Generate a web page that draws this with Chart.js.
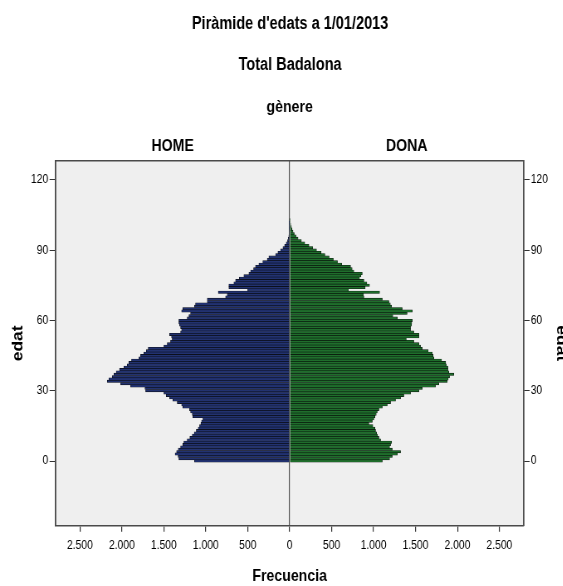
<!DOCTYPE html>
<html>
<head>
<meta charset="utf-8">
<script src="https://cdn.jsdelivr.net/npm/chart.js@4.4.1/dist/chart.umd.min.js"></script>
<style>
  html, body { margin: 0; padding: 0; background: #fff; overflow: hidden; }
  /* the original export is horizontally squeezed (narrow Arial look) */
  #pyramid { transform: scaleX(0.83); transform-origin: 0 0; }
</style>
</head>
<body>
<canvas id="pyramid" width="699" height="586"></canvas>
<script>
// age groups (one bar per year of age)
const ages = [
    0, 1, 2, 3, 4, 5, 6, 7, 8, 9,
    10, 11, 12, 13, 14, 15, 16, 17, 18, 19,
    20, 21, 22, 23, 24, 25, 26, 27, 28, 29,
    30, 31, 32, 33, 34, 35, 36, 37, 38, 39,
    40, 41, 42, 43, 44, 45, 46, 47, 48, 49,
    50, 51, 52, 53, 54, 55, 56, 57, 58, 59,
    60, 61, 62, 63, 64, 65, 66, 67, 68, 69,
    70, 71, 72, 73, 74, 75, 76, 77, 78, 79,
    80, 81, 82, 83, 84, 85, 86, 87, 88, 89,
    90, 91, 92, 93, 94, 95, 96, 97, 98, 99,
    100, 101, 102, 103
];

const genders = ['HOME', 'DONA'];

// men per age
const homeCounts = [
    1134, 1321, 1330, 1365, 1348, 1328, 1300, 1273, 1261, 1221,
    1190, 1161, 1137, 1113, 1090, 1074, 1058, 1050, 1034, 1154,
    1161, 1181, 1193, 1273, 1288, 1340, 1392, 1431, 1471, 1499,
    1717, 1725, 1896, 2015, 2174, 2155, 2115, 2095, 2067, 2028,
    1976, 1936, 1916, 1885, 1797, 1777, 1738, 1709, 1686, 1499,
    1459, 1420, 1400, 1408, 1431, 1300, 1288, 1300, 1312, 1321,
    1321, 1221, 1201, 1181, 1288, 1273, 1135, 1122, 982, 982,
    764, 744, 851, 500, 725, 725, 665, 645, 600, 546,
    486, 466, 430, 407, 367, 320, 267, 248, 168, 140,
    108, 80, 60, 41, 25, 17, 10, 7, 5, 3,
    2, 1, 1, 0
];

// women per age
const donaCounts = [
    1104, 1191, 1223, 1283, 1322, 1223, 1191, 1203, 1215, 1084,
    1064, 1048, 1036, 1024, 1016, 992, 944, 985, 1004, 1016,
    1032, 1044, 1064, 1104, 1163, 1203, 1262, 1322, 1361, 1441,
    1540, 1580, 1739, 1779, 1879, 1890, 1906, 1957, 1898, 1886,
    1886, 1867, 1860, 1811, 1719, 1710, 1700, 1652, 1580, 1560,
    1540, 1480, 1390, 1540, 1540, 1480, 1441, 1441, 1453, 1455,
    1461, 1283, 1230, 1400, 1461, 1342, 1215, 1200, 1183, 1104,
    885, 880, 1072, 700, 900, 952, 920, 885, 833, 850,
    865, 765, 745, 726, 620, 570, 520, 470, 420, 375,
    320, 275, 230, 180, 140, 100, 75, 55, 40, 28,
    20, 12, 8, 4
];

const freqTicks = [-2500, -2000, -1500, -1000, -500, 0, 500, 1000, 1500, 2000, 2500];
const ageTicks = [0, 30, 60, 90, 120];

const FREQ_MAX = 2790;
const AGE_MIN = -27.6;
const AGE_MAX = 128;

// horizontal sizes are given in on-screen pixels and un-squeezed here
const SQUEEZE = 0.83;
const W = 699;
const sx = px => px / SQUEEZE;

const FONT = '"Liberation Sans", Arial, sans-serif';
const FRAME = '#4a4a4a';
const TICK = '#333';

Chart.defaults.font.family = FONT;
Chart.defaults.color = '#000';

// grey plot background like SPSS
const plotBackground = {
    id: 'plotBackground',
    beforeDraw(chart) {
        const { ctx, chartArea: a } = chart;
        ctx.save();
        ctx.fillStyle = '#efefef';
        ctx.fillRect(a.left, a.top, a.right - a.left, a.bottom - a.top);
        ctx.restore();
    }
};

const thousands = v => String(Math.abs(v)).replace(/\B(?=(\d{3})+(?!\d))/g, '.');
const setTicks = list => scale => { scale.ticks = list.map(v => ({ value: v })); };

const ageAxis = (position, width, pad, titlePad) => ({
    type: 'linear',
    position: position,
    min: AGE_MIN,
    max: AGE_MAX,
    offset: false,
    afterBuildTicks: setTicks(ageTicks),
    afterFit: s => { s.width = width; },
    grid: { drawOnChartArea: false, offset: false, tickLength: sx(6), tickColor: TICK },
    border: { color: FRAME, width: sx(1.5) },
    ticks: { padding: pad, font: { size: 12.5 } },
    title: {
        display: true,
        text: 'edat',
        font: { size: 17.5, weight: 'bold' },
        padding: { top: titlePad, bottom: 0 }
    }
});

new Chart(document.getElementById('pyramid'), {
    type: 'bar',
    data: {
        labels: ages,
        datasets: [
            {
                label: genders[0],
                data: homeCounts.map(v => -v),
                backgroundColor: '#223270',
                borderColor: '#0a0c14',
                borderWidth: 0.6,
                grouped: false,
                barPercentage: 1,
                categoryPercentage: 1
            },
            {
                label: genders[1],
                data: donaCounts,
                backgroundColor: '#1f6e2c',
                borderColor: '#0a170c',
                borderWidth: 0.6,
                grouped: false,
                barPercentage: 1,
                categoryPercentage: 1
            }
        ]
    },
    options: {
        indexAxis: 'y',
        responsive: false,
        animation: false,
        layout: { padding: 0 },
        plugins: {
            legend: { display: false },
            tooltip: { enabled: false },
            title: {
                display: true,
                text: "Piràmide d'edats a 1/01/2013",
                font: { size: 17.5, weight: 'bold' },
                padding: { top: 13.5, bottom: 0 }
            },
            subtitle: {
                display: true,
                text: 'Total Badalona',
                color: '#000',
                font: { size: 17.5, weight: 'bold' },
                padding: { top: 20, bottom: 0 }
            }
        },
        scales: {
            x: {
                type: 'linear',
                position: 'bottom',
                min: -FREQ_MAX,
                max: FREQ_MAX,
                afterBuildTicks: setTicks(freqTicks),
                afterFit: s => { s.height = 60.3; },
                grid: {
                    drawOnChartArea: true,
                    color: c => (c.tick && c.tick.value === 0) ? '#555' : 'rgba(0,0,0,0)',
                    lineWidth: sx(1),
                    tickColor: TICK,
                    tickLength: 6
                },
                border: { color: FRAME, width: 1.5 },
                ticks: { padding: 6.5, maxRotation: 0, font: { size: 12.5 }, callback: v => thousands(v) },
                title: {
                    display: true,
                    text: 'Frecuencia',
                    font: { size: 17, weight: 'bold', lineHeight: 1 },
                    padding: { top: 0, bottom: 0.8 }
                }
            },
            x2: {
                type: 'linear',
                position: 'top',
                min: -FREQ_MAX,
                max: FREQ_MAX,
                afterBuildTicks: setTicks([-FREQ_MAX / 2, FREQ_MAX / 2]),
                afterFit: s => { s.height = 85.5; },
                grid: { display: false, drawTicks: false },
                border: { display: true, color: FRAME, width: 1.5 },
                ticks: {
                    padding: 4.5,
                    maxRotation: 0,
                    autoSkip: false,
                    font: { size: 17, weight: 'bold' },
                    callback: (v, i) => genders[i]
                },
                title: {
                    display: true,
                    text: 'gènere',
                    font: { size: 17, weight: 'bold' },
                    padding: { top: 21.6, bottom: 0 }
                }
            },
            y: ageAxis('left', sx(55.6), sx(1.3), sx(18) - 10.5),
            y2: ageAxis('right', W - sx(523.7), sx(1), W - sx(561) - 10.5)
        }
    },
    plugins: [plotBackground]
});
</script>
</body>
</html>
